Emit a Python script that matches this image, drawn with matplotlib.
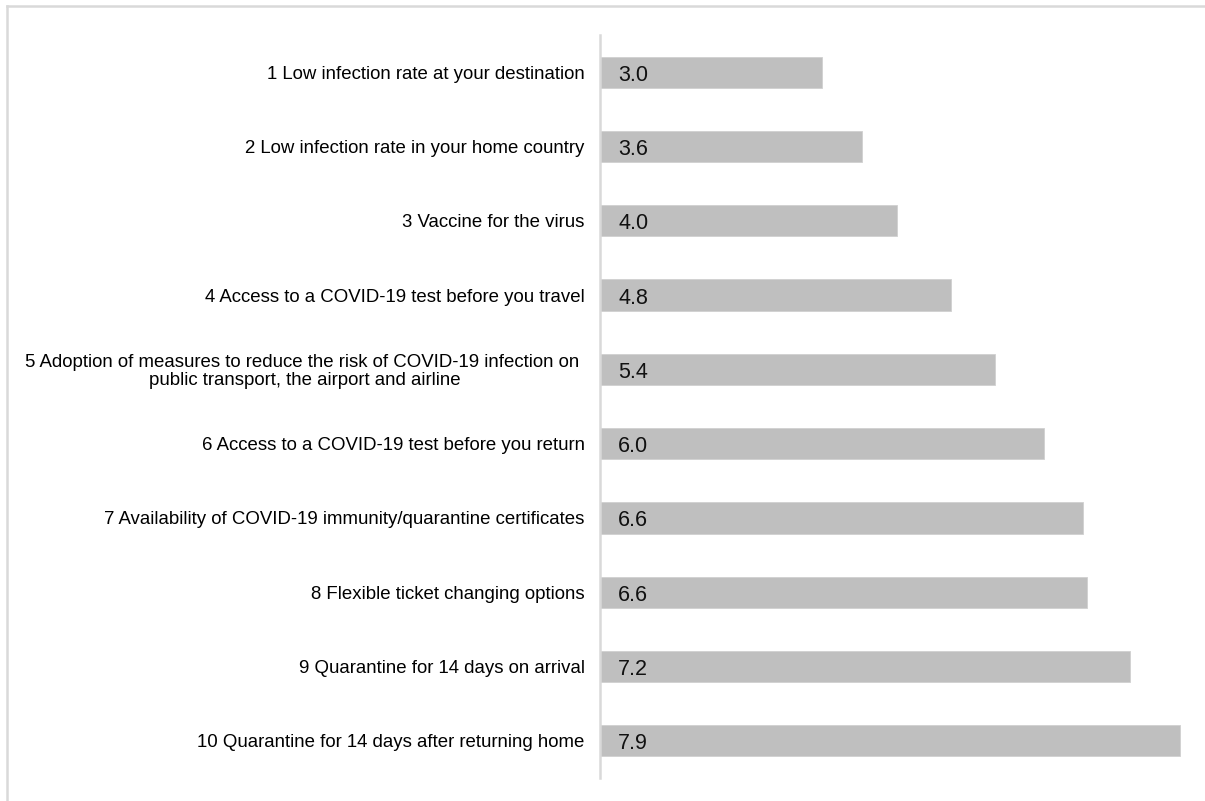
import matplotlib.pyplot as plt
from matplotlib.lines import Line2D

plt.rcParams['font.family'] = ['Liberation Sans', 'DejaVu Sans']

# Faktoren (Reihenfolge von oben nach unten) und mittlere Rangwerte
factors = [
    '1 Low infection rate at your destination',
    '2 Low infection rate in your home country',
    '3 Vaccine for the virus',
    '4 Access to a COVID-19 test before you travel',
    '5 Adoption of measures to reduce the risk of COVID-19 infection on \npublic transport, the airport and airline',
    '6 Access to a COVID-19 test before you return',
    '7 Availability of COVID-19 immunity/quarantine certificates',
    '8 Flexible ticket changing options',
    '9 Quarantine for 14 days on arrival',
    '10 Quarantine for 14 days after returning home',
]
scores = [3.02, 3.57, 4.04, 4.78, 5.38, 6.05, 6.58, 6.63, 7.22, 7.90]

fig = plt.figure(figsize=(12.05, 8.01), dpi=100)
ax = fig.add_axes([600 / 1205, 1 - 778 / 801, 590 / 1205, (778 - 35) / 801])

ypos = list(range(len(factors)))
ax.barh(ypos, scores, height=0.42, color='#bfbfbf', edgecolor='#d0d0d0', linewidth=0.6)

for y, v in zip(ypos, scores):
    ax.text(0.25, y + 0.04, f'{v:.1f}', va='center', ha='left', fontsize=15.5, color='#111111')

ax.set_yticks(ypos)
ax.set_yticklabels(factors, fontsize=13.4, multialignment='center', linespacing=1.05)
ax.tick_params(axis='y', length=0, pad=11)
ax.set_xticks([])
ax.set_xlim(0, 590 / 73.4)
ax.set_ylim(9.5, -0.5)

for s in ['top', 'right', 'bottom']:
    ax.spines[s].set_visible(False)
ax.spines['left'].set_color('#d9d9d9')
ax.spines['left'].set_linewidth(1.8)

# heller Rahmen oben und links
fig.add_artist(Line2D([7 / 1205, 1204 / 1205], [1 - 5.5 / 801, 1 - 5.5 / 801],
                      color='#d9d9d9', linewidth=1.8, transform=fig.transFigure))
fig.add_artist(Line2D([7 / 1205, 7 / 1205], [0, 1 - 5.5 / 801],
                      color='#d9d9d9', linewidth=1.8, transform=fig.transFigure))

fig.savefig('out.png', dpi=100)
